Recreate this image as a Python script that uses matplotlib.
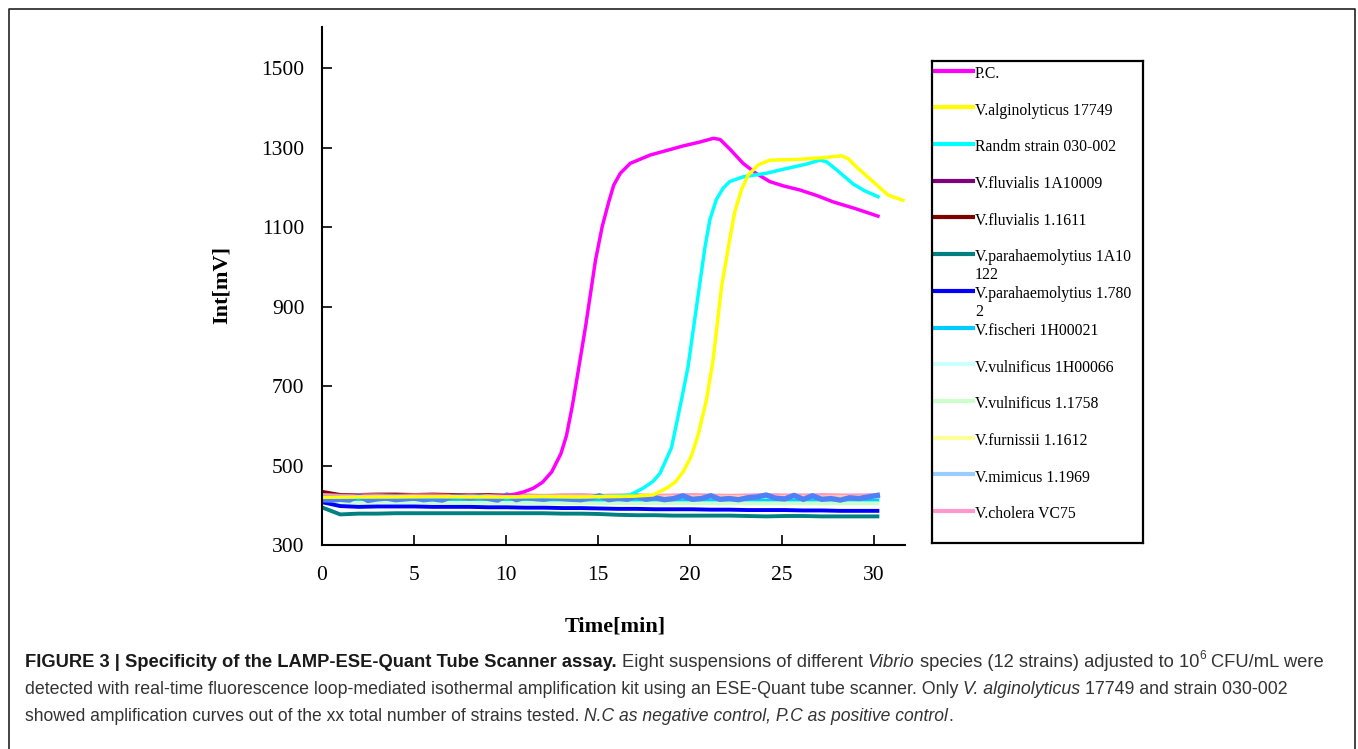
import numpy as np
import matplotlib
matplotlib.use("Agg")
import matplotlib.pyplot as plt
from matplotlib import font_manager
from matplotlib.lines import Line2D

W, H = 1358, 749
SERIF = "Liberation Serif"
names = {f.name for f in font_manager.fontManager.ttflist}
SANS = "Liberation Sans Narrow" if "Liberation Sans Narrow" in names else "Liberation Sans"

# ---- data ----
labels = ["P.C.", "V.alginolyticus 17749", "Randm strain 030-002",
          "V.fluvialis 1A10009", "V.fluvialis 1.1611",
          "V.parahaemolytius 1A10\n122", "V.parahaemolytius 1.780\n2",
          "V.fischeri 1H00021", "V.vulnificus 1H00066", "V.vulnificus 1.1758",
          "V.furnissii 1.1612", "V.mimicus 1.1969", "V.cholera VC75"]
legend_colors = ["#FF00FF", "#FFFF00", "#00FFFF", "#800080", "#800000",
                 "#008080", "#0000FF", "#00CCFF", "#CCFFFF", "#CCFFCC",
                 "#FFFF99", "#99CCFF", "#FF99CC"]

pc_t = [0, 1, 2, 3, 4, 5, 6, 7, 8, 9, 10, 10.5, 11, 11.5, 12, 12.5, 13, 13.3,
        13.62, 13.89, 14.34, 14.88, 15.24, 15.6, 15.87, 16.23, 16.77, 17.86,
        18.8, 19.66, 20.5, 21.29, 21.65, 22.2, 22.9, 23.6, 24.35, 25.1, 25.98,
        26.9, 27.79, 29.0, 30.23]
pc_v = [421, 422, 423, 422, 423, 422, 423, 422, 423, 422, 424, 428, 434, 443,
        458, 484, 530, 575, 650, 724, 850, 1017, 1101, 1164, 1206, 1236, 1261,
        1282, 1294, 1305, 1314, 1324, 1321, 1296, 1261, 1236, 1215, 1204, 1194,
        1180, 1164, 1147, 1128]

rs_t = [0, 2, 4, 6, 8, 10, 12, 14, 16, 16.75, 17.47, 18.0, 18.38, 19.01, 19.55,
        19.91, 20.37, 20.82, 21.09, 21.44, 21.81, 22.17, 22.9, 24.17, 25.07,
        26.34, 27.07, 27.43, 27.79, 28.3, 28.88, 29.5, 30.23]
rs_v = [420, 421, 422, 421, 422, 421, 422, 421, 423, 426, 443, 460, 480, 545, 665,
        749, 900, 1047, 1118, 1169, 1198, 1215, 1227, 1236, 1246, 1259, 1269,
        1265, 1252, 1232, 1209, 1192, 1177]

va_t = [0, 2, 4, 6, 8, 10, 12, 14, 16, 17, 18.01, 18.74, 19.2, 19.64, 20.1,
        20.46, 20.91, 21.27, 21.73, 22.17, 22.45, 22.81, 23.17, 23.72, 24.35,
        25.98, 27.43, 28.25, 28.6, 29.06, 29.96, 30.78, 31.59]
va_v = [420, 421, 421, 422, 421, 421, 422, 421, 422, 423, 426, 443, 458, 484,
        525, 578, 665, 766, 950, 1068, 1139, 1194, 1231, 1257, 1269, 1271, 1276,
        1280, 1273, 1252, 1215, 1181, 1168]

# negative strains, one reading per minute
base_t = np.linspace(0, 30.2, 31)
fluv_1A10009 = [424, 422, 422, 423, 423, 422, 423, 423, 422, 423, 422, 423, 422, 422, 423, 422,
                422, 423, 422, 422, 423, 422, 422, 422, 423, 422, 422, 422, 423, 422, 422]
fluv_11611 = [434, 426, 426, 427, 427, 426, 427, 426, 426, 426, 425, 424, 423, 424, 424, 423,
              423, 424, 423, 423, 424, 423, 423, 423, 423, 423, 422, 423, 423, 422, 423]
para_1A10122 = [395, 377, 379, 379, 380, 380, 380, 380, 380, 380, 380, 380, 380, 379, 379, 378,
                376, 375, 375, 374, 374, 374, 374, 373, 372, 373, 373, 372, 372, 372, 372]
para_17802 = [408, 398, 396, 397, 397, 397, 396, 396, 396, 395, 395, 394, 394, 393, 393, 392,
              391, 391, 390, 390, 390, 389, 389, 388, 388, 388, 387, 387, 386, 386, 386]
fischeri = [413, 411, 411, 412, 412, 411, 412, 412, 411, 411, 411, 412, 411, 411, 411, 411,
            411, 412, 411, 411, 412, 411, 412, 412, 412, 412, 412, 412, 413, 412, 412]
vuln_1H00066 = [416, 415, 415, 416, 416, 415, 416, 415, 415, 416, 415, 415, 415, 416, 415, 415,
                415, 416, 415, 415, 416, 415, 415, 415, 416, 415, 415, 415, 416, 415, 415]
vuln_11758 = [408, 406, 406, 407, 407, 406, 407, 406, 406, 406, 406, 406, 405, 405, 405, 405,
              405, 405, 405, 405, 405, 405, 405, 405, 405, 405, 405, 405, 405, 405, 405]
furnissii = [421, 420, 420, 421, 421, 420, 421, 420, 421, 421, 420, 421, 420, 421, 421, 420,
             421, 421, 420, 421, 421, 420, 421, 421, 420, 421, 421, 420, 421, 421, 421]
cholera = [426, 424, 425, 425, 424, 425, 425, 424, 425, 424, 425, 425, 424, 425, 426, 424,
           425, 425, 424, 425, 426, 425, 424, 425, 426, 425, 425, 426, 425, 425, 426]

# V.mimicus, read every half minute (the jagged blue trace)
mim_t = np.linspace(0, 30.2, 61)
mimicus = [414, 413, 415, 413, 424, 412, 416, 418, 414, 416,
           418, 414, 416, 413, 421, 422, 418, 422, 417, 413,
           426, 414, 420, 417, 415, 419, 417, 415, 414, 418,
           424, 414, 418, 415, 423, 415, 419, 414, 417, 424,
           415, 417, 424, 415, 417, 414, 419, 421, 426, 418,
           416, 425, 415, 424, 415, 417, 413, 419, 417, 421,
           425]

caption = [
    [("FIGURE 3 | Specificity of the LAMP-ESE-Quant Tube Scanner assay.", "b"),
     (" Eight suspensions of different ", "n"), ("Vibrio", "i"),
     (" species (12 strains) adjusted to 10", "n"), ("6", "sup"), (" CFU/mL were", "n")],
    [("detected with real-time fluorescence loop-mediated isothermal amplification kit "
      "using an ESE-Quant tube scanner. Only ", "n"), ("V. alginolyticus", "i"),
     (" 17749 and strain 030-002", "n")],
    [("showed amplification curves out of the xx total number of strains tested. ", "n"),
     ("N.C as negative control, P.C as positive control", "i"), (".", "n")],
]
caption_ends = [1322, 1296, 958]

# ---- figure ----
fig = plt.figure(figsize=(W / 100, H / 100), dpi=100)

# outer frame (open at the bottom)
fig.add_artist(Line2D([8.7 / W, 8.7 / W, 1354.5 / W, 1354.5 / W],
                      [0, 1 - 9 / H, 1 - 9 / H, 0], transform=fig.transFigure,
                      color="#222222", lw=1.2))

ax = fig.add_axes([321.7 / W, 1 - 545 / H, (905 - 321.7) / W, (545 - 26.7) / H])

neg = [(fluv_1A10009, "#800080"), (fluv_11611, "#800000"), (cholera, "#FF99CC"),
       (furnissii, "#FFCC99"), (vuln_1H00066, "#CCFFFF"), (fischeri, "#00CCFF"),
       (vuln_11758, "#CCFFCC"), (para_17802, "#0000FF"), (para_1A10122, "#008080")]
for vals, c in neg:
    ax.plot(base_t, vals, color=c, lw=2.8)
ax.plot(mim_t, mimicus, color="#4F80F5", lw=3.8)
ax.plot(pc_t, pc_v, color="#FF00FF", lw=2.5)
ax.plot(rs_t, rs_v, color="#00FFFF", lw=2.5)
ax.plot(va_t, va_v, color="#FFFF00", lw=2.5)

ax.set_xlim(0, 31.7)
ax.set_ylim(300, 1605)
ax.set_xticks(range(0, 31, 5))
ax.set_yticks(range(300, 1501, 200))
for s in ("top", "right"):
    ax.spines[s].set_visible(False)
for s in ("left", "bottom"):
    ax.spines[s].set_linewidth(1.5)
ax.tick_params(direction="in", length=7, width=1.2, labelsize=15.5)
ax.tick_params(axis="x", pad=15)
ax.tick_params(axis="y", pad=12.5)
for lab in ax.get_xticklabels() + ax.get_yticklabels():
    lab.set_family(SERIF)

ax.set_xlabel("Time[min]", family=SERIF, fontsize=16, fontweight="bold")
ax.set_ylabel("Int[mV]", family=SERIF, fontsize=16, fontweight="bold")
ax.xaxis.set_label_coords((615 - 321.7) / 583.3, (545 - 626) / 518.3)
ax.xaxis.label.set_va("center")
ax.yaxis.set_label_coords((222 - 321.7) / 583.3, (545 - 285) / 518.3)
ax.yaxis.label.set_va("center")

# legend box drawn in its own pixel-scaled axes
lx0, ly0, lx1, ly1 = 931.7, 60.7, 1143, 542.7
lax = fig.add_axes([lx0 / W, 1 - ly1 / H, (lx1 - lx0) / W, (ly1 - ly0) / H])
lax.set_xlim(0, lx1 - lx0)
lax.set_ylim(ly1 - ly0, 0)
lax.set_xticks([])
lax.set_yticks([])
for s in lax.spines.values():
    s.set_linewidth(1.6)
    s.set_color("black")
for i, (lab, c) in enumerate(zip(labels, legend_colors)):
    y = 10 + 36.7 * i
    lax.plot([0, 43.3], [y, y], color=c, lw=3, solid_capstyle="butt")
    for k, part in enumerate(lab.split("\n")):
        lax.text(43.3, y + 7.3 + 17.7 * k, part, family=SERIF, fontsize=11.3,
                 va="baseline", ha="left")

# caption, written segment by segment
renderer = fig.canvas.get_renderer()


def seg_style(sty, size):
    kw = dict(family=SANS, fontsize=size, color="#333333")
    if sty == "b":
        kw.update(fontweight="bold", color="#1a1a1a")
    elif sty == "i":
        kw.update(style="italic")
    elif sty == "sup":
        kw.update(fontsize=size * 0.65)
    return kw


def width_px(txt, kw):
    t = fig.text(0, 0, txt, **kw)
    w = t.get_window_extent(renderer).width
    t.remove()
    return w


def draw_line(segs, x0, y0, size):
    x = x0
    arts = []
    sp = width_px("x x", seg_style("n", size)) - width_px("xx", seg_style("n", size))
    for txt, sty in segs:
        kw = seg_style(sty, size)
        lead = len(txt) - len(txt.lstrip(" "))
        trail = len(txt) - len(txt.rstrip(" "))
        x += lead * sp
        core = txt.strip(" ")
        yy = y0 - (size * 0.45 * 100 / 72 if sty == "sup" else 0)
        t = fig.text(x / W, 1 - yy / H, core, va="baseline", ha="left", **kw)
        x += t.get_window_extent(renderer).width + trail * sp
        arts.append(t)
    return x, arts


for k, segs in enumerate(caption):
    y0 = 667 + 27 * k
    end, arts = draw_line(segs, 25, y0, 12)
    for a in arts:
        a.remove()
    size = min(12 * (caption_ends[k] - 25) / (end - 25), 13.6)
    draw_line(segs, 25, y0, size)

fig.savefig("out.png", dpi=100)
